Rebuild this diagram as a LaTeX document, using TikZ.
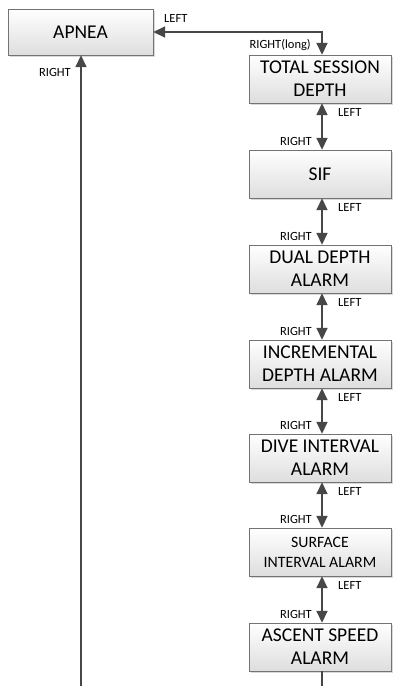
\documentclass[tikz,border=0pt]{standalone}
\usepackage{fontspec}
\setmainfont{Carlito}
\usetikzlibrary{arrows.meta,shadows}

\begin{document}
\begin{tikzpicture}[
        x=1pt, y=-1pt,
        menu/.style={draw=black!55, top color=white, bottom color=black!13,
            minimum width=142pt, minimum height=48pt, inner sep=1pt, align=center,
            font=\fontsize{19.5}{23}\selectfont,
            drop shadow={shadow xshift=1.5pt, shadow yshift=-2pt, fill=black!25, opacity=0.6}},
        nav/.style={{Triangle[length=12pt,width=11pt]}-{Triangle[length=12pt,width=11pt]},
            line width=1.6pt, draw=black!72},
        up/.style={-{Triangle[length=12pt,width=11pt]}, line width=1.6pt, draw=black!72},
        plain/.style={line width=1.6pt, draw=black!72},
        keytext/.style={font=\fontsize{12.5}{14}\selectfont, inner sep=1pt}
    ]
        \useasboundingbox (0,0) rectangle (394,686);

        % Main menu
        \node[menu, minimum width=145pt, minimum height=46pt] (apnea) at (80.5,32) {APNEA};

        % Settings column
        \node[menu] (tsd) at (320,79) {TOTAL SESSION\\DEPTH};
        \node[menu] (sif) at (320,174) {SIF};
        \node[menu] (dual) at (320,269) {DUAL DEPTH\\ALARM};
        \node[menu] (incr) at (320,364) {INCREMENTAL\\DEPTH ALARM};
        \node[menu] (dive) at (320,458) {DIVE INTERVAL\\ALARM};
        \node[menu, font=\fontsize{15.8}{20}\selectfont] (surf) at (320,552) {SURFACE\\INTERVAL ALARM};
        \node[menu] (ascent) at (320,647) {ASCENT SPEED\\ALARM};

        % Loose ends
        \coordinate (back) at (81,686);
        \coordinate (more) at (322,686);

        % Links
        \draw[nav] (apnea.east) -| (tsd.north -| more);
        \node[keytext, anchor=west] (l0) at (163,18) {LEFT};
        \node[keytext, anchor=east] (r0) at (312,45) {RIGHT(long)};

        \draw[up] (back) -- (apnea.south -| back);
        \node[keytext, anchor=east] (r9) at (72,72) {RIGHT};

        \foreach \a/\b/\i in {tsd/sif/1, sif/dual/2, dual/incr/3, incr/dive/4, dive/surf/5, surf/ascent/6}{
            \draw[nav] (\a.south -| more) -- (\b.north -| more);
            \node[keytext, anchor=west] (l\i) at ([yshift=-9pt]\a.south -| 337,0) {LEFT};
            \node[keytext, anchor=east] (r\i) at ([yshift=8pt]\b.north -| 313,0) {RIGHT};
        }

        \draw[plain] (ascent.south -| more) -- (more);
    \end{tikzpicture}
\end{document}
